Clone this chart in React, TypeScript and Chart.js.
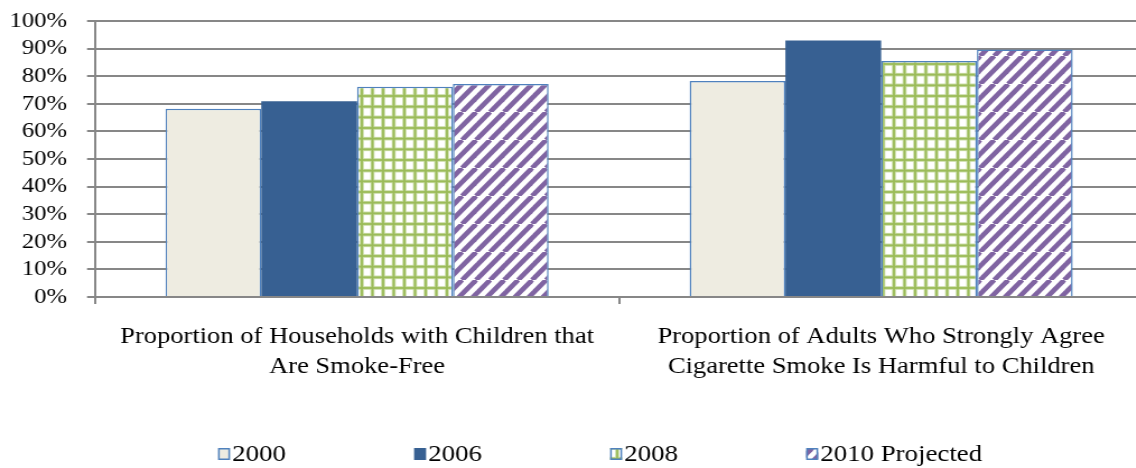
import React, { useEffect, useRef } from "react";
import { Chart, registerables } from "chart.js";

Chart.register(...registerables);

// ---- data ----
const categories: string[][] = [
  ["Proportion of Households with Children that", "Are Smoke-Free"],
  ["Proportion of Adults Who Strongly Agree", "Cigarette Smoke Is Harmful to Children"],
];
const seriesLabels = ["2000", "2006", "2008", "2010 Projected"];
const values2000 = [68.2, 78.3];
const values2006 = [70.9, 92.9];
const values2008 = [76.2, 85.5];
const values2010 = [77.2, 89.7];
const yTickValues = [0, 10, 20, 30, 40, 50, 60, 70, 80, 90, 100];

// ---- layout / style ----
const S = 1.12; // horizontal stretch of the reference rendering
const W = 1040; // intrinsic canvas width
const H = 468;
const LEGEND_X = [218, 414, 610, 806];
const GRID = "#878787";
const BORDER_BLUE = "#4F81BD";
const FAMILY = '"Liberation Serif", "Times New Roman", Times, serif';

function gridPattern(): CanvasPattern | string {
  const c = document.createElement("canvas");
  const tw = 19;
  const th = 32;
  c.width = tw;
  c.height = th;
  const g = c.getContext("2d");
  if (!g) return "#9BBB59";
  g.fillStyle = "#ffffff";
  g.fillRect(0, 0, tw, th);
  const draw = (color: string, w: number) => {
    g.strokeStyle = color;
    g.lineWidth = w;
    for (const x of [0, 9.5, 19]) {
      g.beginPath();
      g.moveTo(x, 0);
      g.lineTo(x, th);
      g.stroke();
    }
    for (const y of [0, 32 / 3, 64 / 3, 32]) {
      g.beginPath();
      g.moveTo(0, y);
      g.lineTo(tw, y);
      g.stroke();
    }
  };
  draw("#c9dca5", 3.6);
  draw("#9BBB59", 1.8);
  return g.createPattern(c, "repeat") as CanvasPattern;
}

function diagPattern(): CanvasPattern | string {
  const c = document.createElement("canvas");
  const tw = 25;
  const th = 28;
  c.width = tw;
  c.height = th;
  const g = c.getContext("2d");
  if (!g) return "#8064A2";
  g.fillStyle = "#ffffff";
  g.fillRect(0, 0, tw, th);
  g.strokeStyle = "#8064A2";
  g.lineWidth = 4.6;
  for (const x0 of [-25, -12.5, 0, 12.5, 25]) {
    g.beginPath();
    g.moveTo(x0, th);
    g.lineTo(x0 + tw, 0);
    g.stroke();
  }
  return g.createPattern(c, "repeat") as CanvasPattern;
}

const legendPlugin = {
  id: "customLegend",
  afterDraw(chart: any) {
    const ctx = chart.ctx as CanvasRenderingContext2D;
    ctx.save();
    chart.data.datasets.forEach((ds: any, i: number) => {
      const bx = LEGEND_X[i] / S;
      const by = 448;
      const bw = 12 / S;
      const bh = 12;
      ctx.fillStyle = ds.backgroundColor;
      ctx.fillRect(bx, by, bw, bh);
      if (i !== 1) {
        ctx.strokeStyle = BORDER_BLUE;
        ctx.lineWidth = 1.5;
        ctx.strokeRect(bx + 0.75, by + 0.75, bw - 1.5, bh - 1.5);
      }
      ctx.fillStyle = "#000";
      ctx.font = `24px ${FAMILY}`;
      ctx.textBaseline = "middle";
      ctx.textAlign = "left";
      ctx.fillText(ds.label, (LEGEND_X[i] + 14) / S, 455);
    });
    ctx.restore();
  },
};

export default function App() {
  const ref = useRef<HTMLCanvasElement | null>(null);

  useEffect(() => {
    const canvas = ref.current;
    if (!canvas) return;
    let chart: Chart | null = null;
    let cancelled = false;

    const build = () => {
      if (cancelled) return;
      Chart.defaults.font.family = FAMILY;
      Chart.defaults.color = "#000";
      chart = new Chart(canvas, {
        type: "bar",
        data: {
          labels: categories,
          datasets: [
            {
              label: seriesLabels[0],
              data: values2000,
              backgroundColor: "#EEECE1",
              borderColor: BORDER_BLUE,
              borderWidth: 1.5,
            },
            {
              label: seriesLabels[1],
              data: values2006,
              backgroundColor: "#376092",
              borderColor: "#376092",
              borderWidth: 0,
            },
            {
              label: seriesLabels[2],
              data: values2008,
              backgroundColor: gridPattern() as any,
              borderColor: BORDER_BLUE,
              borderWidth: 1.5,
            },
            {
              label: seriesLabels[3],
              data: values2010,
              backgroundColor: diagPattern() as any,
              borderColor: BORDER_BLUE,
              borderWidth: 1.5,
            },
          ],
        },
        options: {
          responsive: false,
          animation: false,
          events: [],
          layout: { padding: { top: 21, right: W - 1143 / S, left: 0, bottom: 0 } },
          datasets: {
            bar: { categoryPercentage: 0.731, barPercentage: 1 },
          },
          plugins: {
            legend: { display: false },
            tooltip: { enabled: false },
            title: { display: false },
          },
          scales: {
            x: {
              grid: {
                offset: true,
                drawOnChartArea: false,
                drawTicks: true,
                tickLength: 7,
                color: GRID,
                lineWidth: 2,
              },
              border: { color: GRID, width: 2 },
              ticks: {
                font: { size: 23.7, lineHeight: 1.27, family: FAMILY },
                color: "#000",
                padding: 18,
                maxRotation: 0,
                minRotation: 0,
                autoSkip: false,
              },
              afterFit: (s: any) => {
                s.height = H - 297;
                s.paddingLeft = 0;
                s.paddingRight = 0;
              },
            },
            y: {
              min: 0,
              max: 100,
              afterBuildTicks: (s: any) => {
                s.ticks = yTickValues.map((v) => ({ value: v }));
              },
              ticks: {
                callback: (v: any) => `${v}%`,
                font: { size: 22, family: FAMILY },
                color: "#000",
                padding: 20 / S,
                autoSkip: false,
              },
              grid: { color: GRID, lineWidth: 2, tickLength: 8 / S },
              border: { color: GRID, width: 2 },
              afterFit: (s: any) => {
                s.width = 95 / S;
                s.paddingTop = 0;
                s.paddingBottom = 0;
              },
            },
          },
        },
        plugins: [legendPlugin],
      });
    };

    const fontsApi = (document as any).fonts;
    if (fontsApi && fontsApi.load) {
      Promise.all([
        fontsApi.load('22px "Liberation Serif"'),
        fontsApi.load('24px "Liberation Serif"'),
      ])
        .catch(() => undefined)
        .then(() => build());
    } else {
      build();
    }

    return () => {
      cancelled = true;
      if (chart) chart.destroy();
    };
  }, []);

  return (
    <div
      style={{
        position: "fixed",
        left: 0,
        top: 0,
        width: 1136,
        height: H,
        overflow: "hidden",
        background: "#fff",
      }}
    >
      <canvas
        ref={ref}
        width={W}
        height={H}
        style={{ display: "block", width: `${W * S}px`, height: `${H}px` }}
      />
      <span
        style={{
          position: "absolute",
          left: -9999,
          top: 0,
          fontFamily: FAMILY,
          fontSize: 22,
        }}
      >
        2000
      </span>
    </div>
  );
}
